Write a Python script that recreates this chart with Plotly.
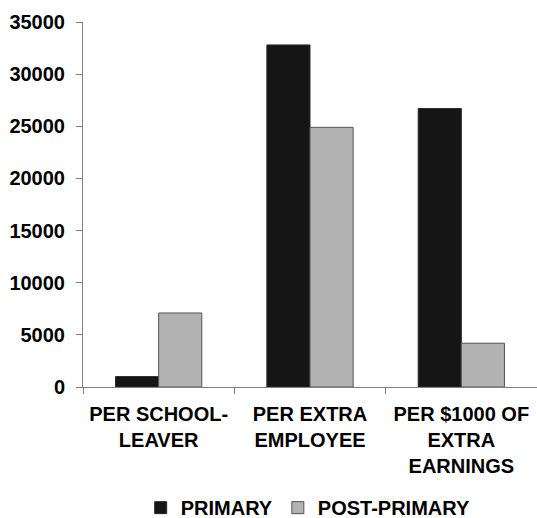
import plotly.graph_objects as go

categories = ["PER SCHOOL-<br>LEAVER", "PER EXTRA<br>EMPLOYEE", "PER $1000 OF<br>EXTRA<br>EARNINGS"]
primary = [1000, 32800, 26700]
post_primary = [7100, 24900, 4200]
y_ticks = [0, 5000, 10000, 15000, 20000, 25000, 30000, 35000]

FONT = dict(family="Liberation Sans, Arial, sans-serif", size=20, color="black", weight="bold")

fig = go.Figure()
fig.add_trace(go.Bar(
    x=categories, y=primary, name="PRIMARY",
    marker=dict(color="#151515", line=dict(color="#2a2a2a", width=1)),
))
fig.add_trace(go.Bar(
    x=categories, y=post_primary, name="POST-PRIMARY",
    marker=dict(color="#b3b3b3", line=dict(color="#555555", width=1)),
))

fig.update_layout(
    width=537, height=518,
    margin=dict(l=83, r=0, t=22, b=131),
    paper_bgcolor="white", plot_bgcolor="white",
    font=FONT,
    barmode="group", bargap=0.43, bargroupgap=0,
    showlegend=True,
    legend=dict(
        orientation="h", x=0.496, xanchor="center",
        yref="container", y=0.02, yanchor="middle",
        font=FONT, traceorder="normal", itemwidth=30,
    ),
)
fig.update_xaxes(
    showline=True, linecolor="#808080", linewidth=1,
    ticks="outside", ticklen=6, tickcolor="#808080", tickson="boundaries",
    ticklabelstandoff=9, showgrid=False, tickfont=FONT, automargin=False,
)
fig.update_yaxes(
    range=[0, 35000], tickvals=y_ticks, tickformat="d",
    showline=True, linecolor="#808080", linewidth=1,
    ticks="outside", ticklen=6, tickcolor="#808080",
    ticklabelstandoff=7, showgrid=False, zeroline=False, tickfont=FONT,
    automargin=False,
)

fig.write_html("out.html")
